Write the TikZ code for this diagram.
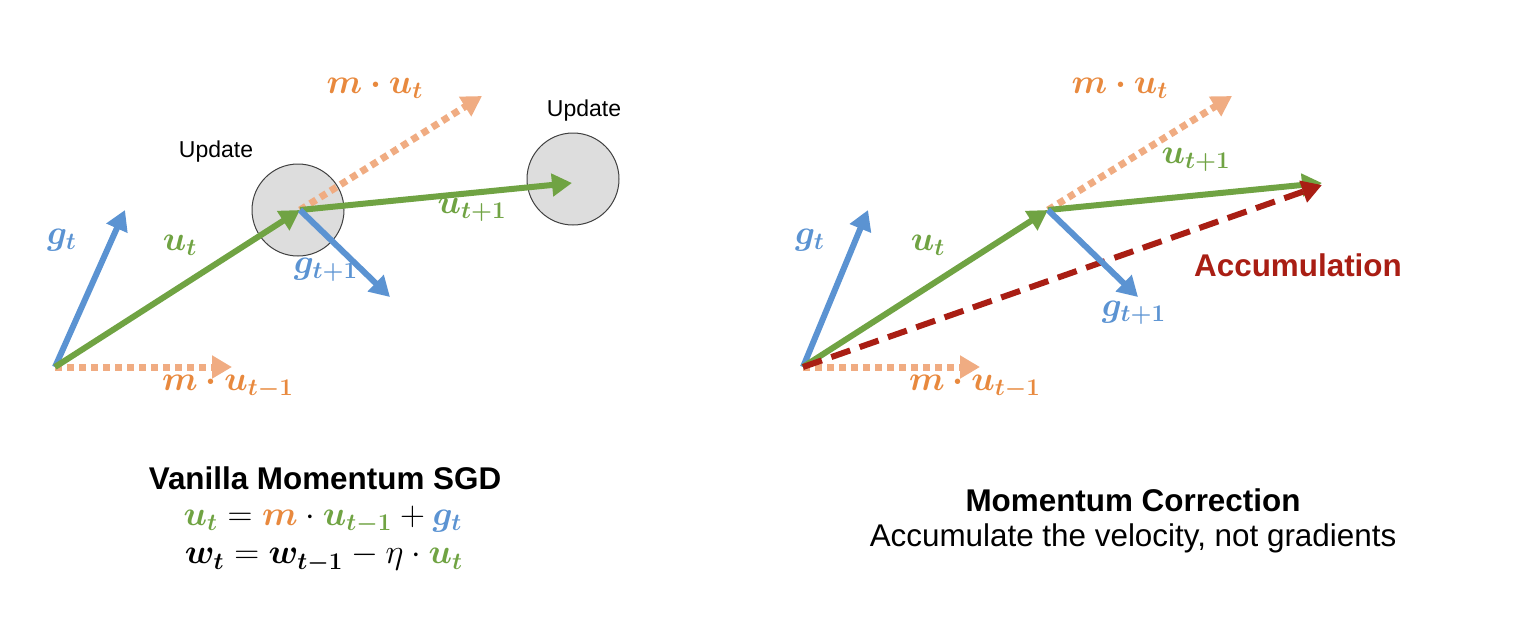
\documentclass[tikz,border=0pt]{standalone}
\usepackage{fontspec}
\setmainfont{Liberation Sans}
\usepackage{amsmath,bm}
\usetikzlibrary{arrows.meta}
\definecolor{vgreen}{HTML}{70A343}
\definecolor{vblue}{HTML}{5B93D2}
\definecolor{vorange}{HTML}{E8893E}
\definecolor{lorange}{HTML}{F0AC82}
\definecolor{vred}{HTML}{A91E14}
\definecolor{cfill}{HTML}{DDDDDD}
\begin{document}
\begin{tikzpicture}[x=0.5pt,y=-0.5pt,
  tip/.style={-{Triangle[length=10pt,width=11pt]}},
  gvec/.style={tip, line width=3pt, draw=vgreen},
  bvec/.style={tip, line width=3pt, draw=vblue},
  dvec/.style={tip, line width=3.5pt, draw=lorange, dash pattern=on 3.5pt off 2.5pt},
  rvec/.style={tip, line width=3pt, draw=vred, dash pattern=on 10pt off 5pt},
  updcircle/.style={circle, draw=black!75, line width=0.5pt, fill=cfill, minimum size=46pt, inner sep=0pt},
  mlab/.style={font=\fontsize{17}{20}\selectfont, inner sep=0pt},
  txt/.style={font=\fontsize{15.7}{18}\selectfont, inner sep=0pt},
  btxt/.style={font=\fontsize{15.7}{18}\selectfont\bfseries, inner sep=0pt},
  small/.style={font=\fontsize{11.5}{13}\selectfont, inner sep=0pt},
  eq/.style={font=\fontsize{16.5}{19}\selectfont, inner sep=0pt}
]
\useasboundingbox (0,0) rectangle (1530,632);

% ---------- left panel ----------
\node[updcircle] (c1) at (298,210) {};
\node[updcircle] (c2) at (573,179) {};
\coordinate (o1) at (55,367);
\coordinate (gt1) at (125,210);
\coordinate (mu1) at (232,367);
\coordinate (mut1) at (482,96);
\coordinate (ut1e) at (572,183);
\coordinate (gn1) at (390,297);
\coordinate (p1) at (300,210);

\draw[dvec] (o1) -- (mu1);
\draw[dvec] (p1) -- (mut1);
\draw[bvec] (o1) -- (gt1);
\draw[gvec] (o1) -- (p1);
\draw[gvec] (p1) -- (ut1e);
\draw[bvec] (p1) -- (gn1);

\node[mlab, text=vblue] (lg1) at (62,240) {$\bm{g_t}$};
\node[mlab, text=vgreen] (lu1) at (180,245) {$\bm{u_t}$};
\node[mlab, text=vorange] (lmu1) at (228,386) {$\bm{m\cdot u_{t-1}}$};
\node[mlab, text=vorange] (lmut1) at (375,88) {$\bm{m\cdot u_{t}}$};
\node[mlab, text=vgreen] (lun1) at (472,210) {$\bm{u_{t+1}}$};
\node[mlab, text=vblue] (lgn1) at (326,270) {$\bm{g_{t+1}}$};
\node[small] (up1) at (216,152) {Update};
\node[small] (up2) at (584,111) {Update};

% ---------- right panel ----------
\coordinate (o2) at (803,367);
\coordinate (gt2) at (868,210);
\coordinate (mu2) at (980,367);
\coordinate (p2) at (1048,210);
\coordinate (mut2) at (1232,96);
\coordinate (ut2e) at (1322,183);
\coordinate (gn2) at (1138,297);
\coordinate (acc) at (1322,185);

\draw[dvec] (o2) -- (mu2);
\draw[dvec] (p2) -- (mut2);
\draw[bvec] (o2) -- (gt2);
\draw[gvec] (o2) -- (p2);
\draw[gvec] (p2) -- (ut2e);
\draw[rvec] (o2) -- (acc);
\draw[bvec] (p2) -- (gn2);

\node[mlab, text=vblue] (lg2) at (810,240) {$\bm{g_t}$};
\node[mlab, text=vgreen] (lu2) at (928,245) {$\bm{u_t}$};
\node[mlab, text=vorange] (lmu2) at (975,386) {$\bm{m\cdot u_{t-1}}$};
\node[mlab, text=vorange] (lmut2) at (1120,88) {$\bm{m\cdot u_{t}}$};
\node[mlab, text=vgreen] (lun2) at (1196,160) {$\bm{u_{t+1}}$};
\node[mlab, text=vblue] (lgn2) at (1134,313) {$\bm{g_{t+1}}$};
\node[btxt, text=vred] (lacc) at (1298,265) {Accumulation};

% ---------- captions ----------
\node[btxt] (t1) at (325,478) {Vanilla Momentum SGD};
\node[eq] (e1) at (323,520) {$\color{vgreen}\bm{u_t}\color{black} = \color{vorange}\bm{m}\color{black}\cdot\color{vgreen}\bm{u_{t-1}}\color{black} + \color{vblue}\bm{g_t}$};
\node[eq] (e2) at (324,558) {$\bm{w_t} = \bm{w_{t-1}} - \eta\cdot\color{vgreen}\bm{u_t}$};
\node[btxt] (t2) at (1133,500) {Momentum Correction};
\node[txt] (s2) at (1133,538) {Accumulate the velocity, not gradients};
\end{tikzpicture}
\end{document}
